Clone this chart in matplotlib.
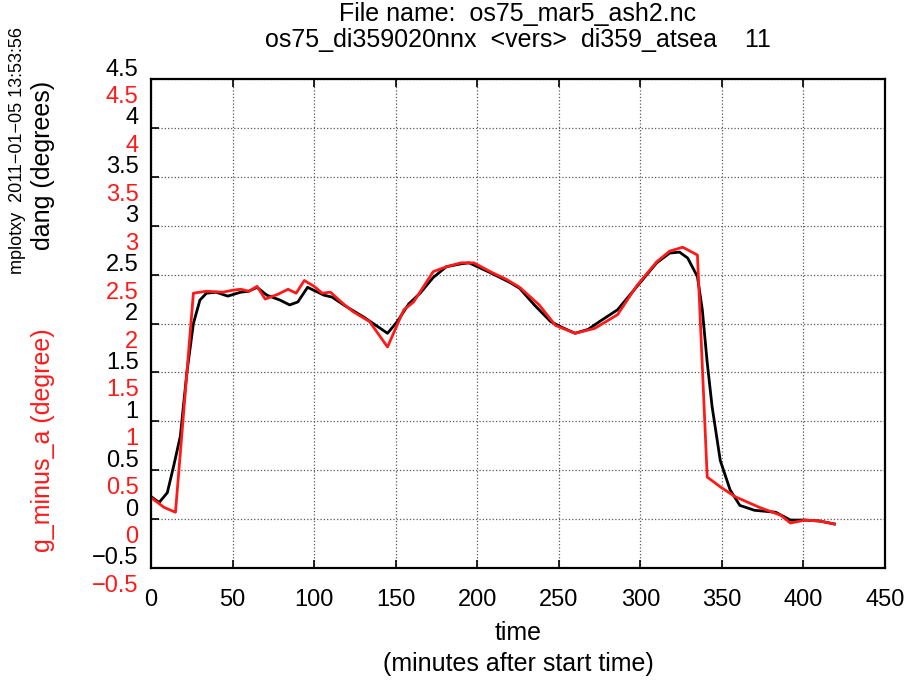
import matplotlib
matplotlib.use("Agg")
import matplotlib.pyplot as plt
from matplotlib.transforms import ScaledTranslation

plt.rcParams["font.family"] = ["Liberation Sans", "DejaVu Sans"]

# dang (black)
t_dang = [0, 5, 10, 14, 18, 22, 26, 30, 34, 40, 47, 55, 60, 65, 71, 79, 85, 90,
          96, 106, 111, 120, 130, 138, 145, 151, 158, 165, 173, 181, 190, 195,
          208, 220, 226, 235, 245, 252, 260, 268, 275, 286, 300, 310, 318, 324,
          329, 335, 338, 341, 344, 349, 355, 361, 370, 383, 392, 401, 410, 419]
dang = [0.23, 0.17, 0.27, 0.55, 0.85, 1.5, 2.0, 2.24, 2.31, 2.32, 2.28, 2.32,
        2.33, 2.37, 2.29, 2.24, 2.19, 2.22, 2.37, 2.29, 2.27, 2.17, 2.07, 1.98,
        1.90, 2.02, 2.20, 2.31, 2.47, 2.58, 2.61, 2.62, 2.52, 2.42, 2.36, 2.19,
        2.02, 1.96, 1.90, 1.94, 2.02, 2.14, 2.42, 2.62, 2.72, 2.73, 2.67, 2.48,
        2.14, 1.6, 1.15, 0.6, 0.30, 0.14, 0.09, 0.07, -0.01, -0.01, -0.02, -0.05]

# g_minus_a (red)
t_gma = [0, 8, 15, 26, 34, 44, 50, 55, 60, 65, 70, 78, 84, 89, 94, 100, 105,
         110, 118, 124, 134, 145, 155, 161, 173, 181, 190, 198, 208, 218, 226,
         238, 248, 260, 272, 286, 298, 310, 318, 326, 335, 341, 349, 358, 373,
         386, 392, 401, 410, 419]
gma = [0.22, 0.12, 0.07, 2.31, 2.33, 2.32, 2.34, 2.35, 2.33, 2.38, 2.25, 2.30,
       2.35, 2.31, 2.44, 2.38, 2.31, 2.32, 2.2, 2.12, 2.02, 1.76, 2.14, 2.22,
       2.53, 2.58, 2.62, 2.62, 2.53, 2.45, 2.37, 2.19, 1.98, 1.90, 1.95, 2.09,
       2.39, 2.63, 2.74, 2.78, 2.70, 0.43, 0.33, 0.23, 0.12, 0.04, -0.04, -0.01,
       -0.02, -0.05]

yticks = [-0.5, 0, 0.5, 1, 1.5, 2, 2.5, 3, 3.5, 4, 4.5]
ytick_labels = ["\u22120.5", "0", "0.5", "1", "1.5", "2", "2.5", "3", "3.5", "4", "4.5"]
xticks = list(range(0, 451, 50))

RED = "#ff1a1a"

fig = plt.figure(figsize=(9.08, 6.8), dpi=100)
ax = fig.add_axes([151 / 908, 1 - 568 / 680, 734 / 908, 489 / 680])

ax.plot(t_dang, dang, color="black", lw=2.0)
ax.plot(t_gma, gma, color=RED, lw=2.0)

ax.set_xlim(0, 450)
ax.set_ylim(-0.5, 4.5)
ax.set_xticks(xticks)
ax.set_yticks(yticks)
ax.set_yticklabels(ytick_labels)
ax.grid(True, linestyle=":", color="0.35", lw=0.9)
ax.tick_params(direction="in", length=6, width=1.2, top=True, right=True,
               labelsize=17)
ax.tick_params(axis="x", pad=15)
ax.tick_params(axis="y", pad=9)
for s in ax.spines.values():
    s.set_linewidth(1.6)

# black y labels sit a bit above their ticks
up = ScaledTranslation(0, 0.12, fig.dpi_scale_trans)
for lab in ax.get_yticklabels():
    lab.set_transform(lab.get_transform() + up)

# red y labels for the second axis, same ticks, shifted down
ax2 = ax.twinx()
ax2.set_ylim(-0.5, 4.5)
ax2.yaxis.tick_left()
ax2.set_yticks(yticks)
ax2.set_yticklabels(ytick_labels)
ax2.tick_params(axis="y", length=0, pad=9, labelsize=17, labelcolor=RED)
for s in ax2.spines.values():
    s.set_visible(False)
down = ScaledTranslation(0, -0.155, fig.dpi_scale_trans)
for lab in ax2.get_yticklabels():
    lab.set_transform(lab.get_transform() + down)

# titles / labels
cx = 518 / 908
fig.text(cx, 1 - 14 / 680, "File name:  os75_mar5_ash2.nc", ha="center", va="center", fontsize=18)
fig.text(cx, 1 - 40 / 680, "os75_di359020nnx  <vers>  di359_atsea    11", ha="center", va="center", fontsize=18)
fig.text(cx, 1 - 633 / 680, "time", ha="center", va="center", fontsize=18)
fig.text(cx, 1 - 664 / 680, "(minutes after start time)", ha="center", va="center", fontsize=18)

fig.text(18 / 908, 1 - 150 / 680, "mplotxy  2011\u221201\u221205 13:53:56", rotation=90,
         ha="center", va="center", fontsize=13)
fig.text(43 / 908, 1 - 165 / 680, "dang (degrees)", rotation=90,
         ha="center", va="center", fontsize=18)
fig.text(43 / 908, 1 - 440 / 680, "g_minus_a (degree)", rotation=90,
         ha="center", va="center", fontsize=18, color=RED)

fig.savefig("out.png", dpi=100)
